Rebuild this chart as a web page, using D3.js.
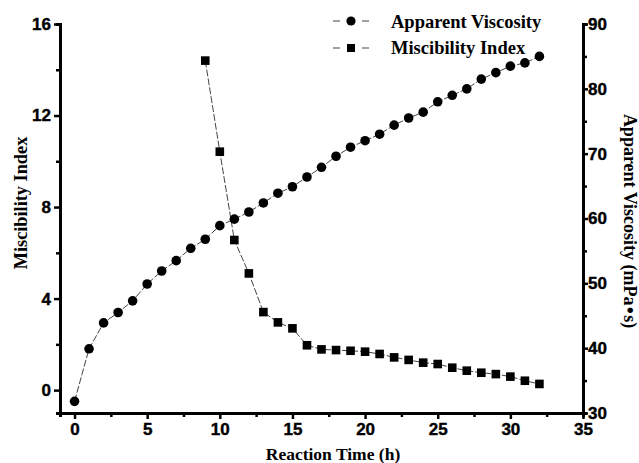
<!DOCTYPE html>
<html><head><meta charset="utf-8">
<script src="https://cdn.jsdelivr.net/npm/d3@7"></script>
<style>body{margin:0;background:#fff}</style>
</head><body>
<svg id="c" width="639" height="463"></svg>
<script>
const viscTime = d3.range(0, 33);
const viscosity = [31.8,39.9,43.9,45.5,47.3,49.9,51.9,53.5,55.4,56.8,58.9,59.9,61.0,62.4,63.9,64.9,66.4,67.9,69.6,71.0,72.0,73.0,74.4,75.5,76.4,78.0,79.0,80.0,81.5,82.5,83.5,84.0,85.0];
const miscTime = d3.range(9, 33);
const miscibility = [14.4,10.42,6.56,5.1,3.41,2.96,2.70,1.96,1.78,1.75,1.72,1.68,1.58,1.43,1.32,1.20,1.14,0.98,0.85,0.76,0.70,0.59,0.41,0.27];
const xTicks = [0,5,10,15,20,25,30,35];
const leftTicks = [0,4,8,12,16];
const rightTicks = [30,40,50,60,70,80,90];
const xMinorTicks = [2.5,7.5,12.5,17.5,22.5,27.5,32.5];
const leftMinorTicks = [2,6,10,14];
const rightMinorTicks = [35,45,55,65,75,85];
const seriesNames = ["Apparent Viscosity","Miscibility Index"];

const svg = d3.select("#c");
const L=60,R=583,T=24,B=413;
const x = d3.scaleLinear().domain([-1,35]).range([L,R]);
const yl = d3.scaleLinear().domain([-1,16]).range([B,T]);
const yr = d3.scaleLinear().domain([30,90]).range([B,T]);
const numFont = "'Liberation Sans', Arial, sans-serif";
const serif = "'Liberation Serif', 'Times New Roman', serif";

function styleAxis(g){
  g.select(".domain").attr("stroke","#000").attr("stroke-width",3);
  g.selectAll(".tick line").attr("stroke","#000").attr("stroke-width",2.5);
  g.selectAll(".tick text").attr("font-family",numFont).attr("font-weight","bold").attr("font-size",17)
    .attr("fill","#000").attr("stroke","#000").attr("stroke-width",0.4);
}
svg.append("g").attr("transform",`translate(0,${B})`)
  .call(d3.axisBottom(x).tickValues(xMinorTicks).tickSize(4).tickFormat("")).call(styleAxis);
svg.append("g").attr("transform",`translate(${L},0)`)
  .call(d3.axisLeft(yl).tickValues(leftMinorTicks).tickSize(4).tickFormat("")).call(styleAxis);
svg.append("g").attr("transform",`translate(${R},0)`)
  .call(d3.axisRight(yr).tickValues(rightMinorTicks).tickSize(4).tickFormat("")).call(styleAxis);

svg.append("g").attr("transform",`translate(0,${B})`)
  .call(d3.axisBottom(x).tickValues(xTicks).tickSize(6).tickPadding(4).tickSizeOuter(0)).call(styleAxis);
svg.append("g").attr("transform",`translate(${L},0)`)
  .call(d3.axisLeft(yl).tickValues(leftTicks).tickSize(6).tickPadding(3).tickSizeOuter(0)).call(styleAxis);
svg.append("g").attr("transform",`translate(${R},0)`)
  .call(d3.axisRight(yr).tickValues(rightTicks).tickSize(5).tickPadding(0).tickSizeOuter(0)).call(styleAxis);

const lineStyle = s=>s.attr("fill","none").attr("stroke","#444").attr("stroke-width",1).attr("stroke-dasharray","7,2");
svg.append("path").datum(viscTime.map((t,i)=>[t,viscosity[i]]))
  .attr("d", d3.line().x(d=>x(d[0])).y(d=>yr(d[1]))).call(lineStyle);
svg.append("path").datum(miscTime.map((t,i)=>[t,miscibility[i]]))
  .attr("d", d3.line().x(d=>x(d[0])).y(d=>yl(d[1]))).call(lineStyle);

svg.append("g").selectAll("circle").data(viscTime).join("circle")
  .attr("cx",t=>x(t)).attr("cy",(t,i)=>yr(viscosity[i])).attr("r",4.8).attr("fill","#000");
svg.append("g").selectAll("rect").data(miscTime).join("rect")
  .attr("x",t=>x(t)-4.3).attr("y",(t,i)=>yl(miscibility[i])-4.3).attr("width",8.6).attr("height",8.6).attr("fill","#000");

// legend
const lg = svg.append("g");
[0,1].forEach(i=>{
  const yy = i===0?21:48;
  lg.append("line").attr("x1",333).attr("x2",369).attr("y1",yy).attr("y2",yy)
    .attr("stroke","#444").attr("stroke-width",1.2).attr("stroke-dasharray","7,22,7");
  if(i===0) lg.append("circle").attr("cx",351).attr("cy",yy).attr("r",4.6).attr("fill","#000");
  else lg.append("rect").attr("x",347).attr("y",yy-4).attr("width",8).attr("height",8).attr("fill","#000");
  lg.append("text").attr("x",391).attr("y",i===0?28:54).text(seriesNames[i])
    .attr("font-family",serif).attr("font-weight","bold").attr("font-size",18.5);
});

// axis titles
svg.append("text").attr("x",333).attr("y",460).attr("text-anchor","middle")
  .attr("font-family",serif).attr("font-weight","bold").attr("font-size",17.5).text("Reaction Time (h)");
svg.append("text").attr("transform",`translate(27,203) rotate(-90)`).attr("text-anchor","middle")
  .attr("font-family",serif).attr("font-weight","bold").attr("font-size",18.3).text("Miscibility Index");
const rt = svg.append("text").attr("transform",`translate(624,221) rotate(90)`).attr("text-anchor","middle")
  .attr("font-family",serif).attr("font-weight","bold").attr("font-size",18);
rt.append("tspan").text("Apparent Viscosity (mPa");
rt.append("tspan").attr("font-family","'DejaVu Sans', sans-serif").attr("font-size",15).text("\u2022");
rt.append("tspan").text("s)");
</script>
</body></html>
